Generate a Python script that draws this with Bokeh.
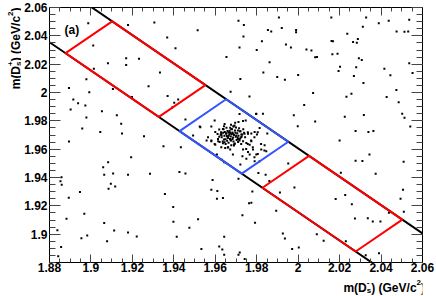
import math
import numpy as np
from bokeh.plotting import figure
from bokeh.layouts import row, column
from bokeh.models import Range1d, LinearAxis, FixedTicker, Label, CustomLabelingPolicy
from bokeh.embed import file_html
from bokeh.resources import INLINE

# ---------------- data ----------------
AX_MIN, AX_MAX = 1.88, 2.06
x_tick_values = [1.88, 1.90, 1.92, 1.94, 1.96, 1.98, 2.00, 2.02, 2.04, 2.06]
x_tick_labels = ["1.88", "1.9", "1.92", "1.94", "1.96", "1.98", "2", "2.02", "2.04", "2.06"]
y_tick_values = [1.90, 1.92, 1.94, 1.96, 1.98, 2.00, 2.02, 2.04, 2.06]
y_tick_labels = ["1.9", "1.92", "1.94", "1.96", "1.98", "2", "2.02", "2.04", "2.06"]

# band in m(Ds-)+m(Ds+) and box limits in m(Ds+)-m(Ds-)
band_sum = [3.9155, 3.9605]
blue_diff = [-0.03, 0.03]
red_diff_upper = [0.05, 0.14]
red_diff_lower = [-0.14, -0.05]

bkg_left = [
    (1.8987, 2.0489), (1.9179, 2.0477), (1.9306, 2.0494), (1.9515, 2.0440), (1.9368, 2.0388),
    (1.9011, 2.0331), (1.9408, 2.0312), (1.9170, 2.0241), (1.9232, 2.0239), (1.9654, 2.0251),
    (1.9082, 2.0206), (1.9170, 2.0194), (1.9014, 2.0168), (1.9333, 2.0142), (1.8978, 2.0093),
    (1.9278, 2.0045), (1.8894, 2.0031), (1.9106, 2.0024), (1.8992, 2.0001), (1.9674, 2.0005),
    (1.8915, 1.9951), (1.9198, 1.9968), (1.9370, 1.9975), (1.9421, 1.9951), (1.8938, 1.9925),
    (1.9402, 1.9927), (1.8973, 1.9909), (1.8902, 1.9880), (1.9053, 1.9868), (1.9125, 1.9840),
    (1.8978, 1.9824), (1.9392, 1.9894), (1.9146, 1.9779), (1.9456, 1.9809), (1.8958, 1.9746),
    (1.9045, 1.9722), (1.9150, 1.9710), (1.9256, 1.9691), (1.9528, 1.9755), (1.8894, 1.9654),
    (1.9350, 1.9621), (1.9434, 1.9614), (1.9194, 1.9543), (1.9083, 1.9507), (1.9059, 1.9472),
    (1.9064, 1.9420), (1.9107, 1.9429), (1.9179, 1.9420), (1.9285, 1.9427), (1.9427, 1.9439),
    (1.9456, 1.9429), (1.8858, 1.9401), (1.8853, 1.9373), (1.8859, 1.9349), (1.9096, 1.9356),
    (1.9117, 1.9337), (1.9085, 1.9321), (1.9587, 1.9382), (1.9581, 1.9314), (1.9610, 1.9304),
    (1.8947, 1.9297), (1.8893, 1.9257), (1.9357, 1.9283), (1.9608, 1.9250), (1.9637, 1.9255),
    (1.9397, 1.9191), (1.8968, 1.9144), (1.8882, 1.9108), (1.9517, 1.9106), (1.9064, 1.9078),
    (1.9398, 1.9087), (1.9112, 1.9026), (1.9179, 1.9012), (1.9475, 1.9045), (1.8838, 1.9028),
    (1.8982, 1.8990), (1.9221, 1.8983), (1.8954, 1.8972), (1.9414, 1.8981), (1.9643, 1.8981),
    (1.9078, 1.8950), (1.8856, 1.8910), (1.9533, 1.8896), (1.9619, 1.8913), (1.9634, 1.8891),
    (1.8842, 1.8844), (1.9643, 1.8854),
]

bkg_right = [
    (1.9712, 2.0506), (1.9738, 2.0477), (1.9907, 2.0529), (2.0160, 2.0529), (2.0328, 2.0529),
    (2.0437, 2.0506), (2.0389, 2.0489), (2.0536, 2.0513), (1.9921, 2.0456), (1.9854, 2.0442),
    (1.9870, 2.0430), (1.9990, 2.0442), (1.9990, 2.0425), (2.0312, 2.0465), (2.0237, 2.0414),
    (2.0475, 2.0430), (2.0513, 2.0428), (2.0531, 2.0430), (1.9736, 2.0395), (1.9825, 2.0362),
    (1.9941, 2.0338), (2.0161, 2.0364), (2.0168, 2.0362), (2.0265, 2.0357), (2.0288, 2.0378),
    (2.0283, 2.0352), (1.9717, 2.0317), (1.9965, 2.0317), (1.9800, 2.0300), (2.0040, 2.0303),
    (2.0064, 2.0296), (2.0165, 2.0270), (2.0190, 2.0274), (2.0082, 2.0248), (2.0091, 2.0251),
    (2.0293, 2.0241), (2.0307, 2.0229), (1.9862, 2.0213), (2.0536, 2.0206), (2.0202, 2.0182),
    (2.0280, 2.0178), (2.0416, 2.0168), (1.9832, 2.0142), (2.0195, 2.0152), (2.0000, 2.0123),
    (1.9899, 2.0109), (1.9936, 2.0090), (2.0269, 2.0116), (2.0445, 2.0121), (2.0552, 2.0137),
    (1.9721, 2.0095), (2.0315, 2.0067), (2.0474, 2.0017), (2.0072, 1.9996), (2.0257, 1.9991),
    (1.9765, 1.9972), (2.0233, 1.9970), (2.0427, 1.9968), (2.0485, 1.9932), (2.0029, 1.9911),
    (2.0502, 1.9850), (1.9979, 1.9840), (2.0225, 1.9828), (2.0317, 1.9842), (2.0513, 1.9821),
    (2.0082, 1.9795), (1.9998, 1.9762), (2.0541, 1.9760), (2.0277, 1.9729), (2.0339, 1.9722),
    (2.0363, 1.9729), (1.9851, 1.9710), (2.0200, 1.9661), (2.0344, 1.9562), (2.0277, 1.9519),
    (2.0310, 1.9517), (2.0509, 1.9512), (1.9952, 1.9498), (1.9721, 1.9491), (1.9808, 1.9432),
    (1.9843, 1.9420), (2.0206, 1.9434), (2.0374, 1.9427), (1.9712, 1.9392), (1.9861, 1.9375),
    (1.9982, 1.9330), (1.9779, 1.9302), (2.0506, 1.9314), (1.9912, 1.9295), (2.0227, 1.9276),
    (2.0181, 1.9248), (2.0494, 1.9250), (1.9763, 1.9219), (1.9774, 1.9222), (2.0259, 1.9212),
    (2.0510, 1.9158), (1.9894, 1.9165), (1.9731, 1.9134), (2.0274, 1.9111), (2.0336, 1.9113),
    (2.0360, 1.9090), (2.0397, 1.9090), (2.0438, 1.9151), (1.9792, 1.9080), (1.9926, 1.9005),
    (2.0090, 1.9000), (1.9936, 1.8969), (2.0123, 1.8953), (2.0230, 1.8950), (1.9971, 1.8896),
    (2.0003, 1.8906), (1.9718, 1.8870), (1.9712, 1.8854), (2.0390, 1.8865), (2.0326, 1.8851),
    (1.9742, 1.8825),
]

signal_halo = [
    (1.9597, 1.9802), (1.9645, 1.9778), (1.9637, 1.9743), (1.9677, 1.9743), (1.9693, 1.9767),
    (1.9709, 1.9731), (1.9669, 1.9720), (1.9653, 1.9708), (1.9685, 1.9708), (1.9701, 1.9696),
    (1.9661, 1.9684), (1.9629, 1.9708), (1.9613, 1.9672), (1.9645, 1.9649), (1.9677, 1.9661),
    (1.9709, 1.9672), (1.9725, 1.9684), (1.9741, 1.9708), (1.9757, 1.9720), (1.9773, 1.9661),
    (1.9789, 1.9684), (1.9805, 1.9720), (1.9693, 1.9637), (1.9661, 1.9613), (1.9629, 1.9613),
    (1.9597, 1.9637), (1.9581, 1.9661), (1.9565, 1.9684), (1.9725, 1.9637), (1.9757, 1.9637),
    (1.9749, 1.9601), (1.9781, 1.9613), (1.9821, 1.9637), (1.9837, 1.9590), (1.9805, 1.9566),
    (1.9789, 1.9543), (1.9717, 1.9849), (1.9797, 1.9849), (1.9525, 1.9760), (1.9493, 1.9696),
    (1.9581, 1.9760), (1.9600, 1.9722), (1.9619, 1.9739), (1.9642, 1.9762), (1.9630, 1.9698),
    (1.9614, 1.9656), (1.9600, 1.9632), (1.9637, 1.9642), (1.9661, 1.9680), (1.9674, 1.9715),
    (1.9688, 1.9760), (1.9696, 1.9786), (1.9648, 1.9609), (1.9672, 1.9597), (1.9690, 1.9632),
    (1.9608, 1.9562), (1.9632, 1.9526), (1.9643, 1.9507), (1.9685, 1.9562), (1.9558, 1.9661),
    (1.9581, 1.9656), (1.9712, 1.9791), (1.9734, 1.9798), (1.9747, 1.9802), (1.9718, 1.9727),
    (1.9726, 1.9703), (1.9715, 1.9668), (1.9734, 1.9656), (1.9750, 1.9644), (1.9766, 1.9632),
    (1.9774, 1.9656), (1.9758, 1.9708), (1.9774, 1.9710), (1.9790, 1.9722), (1.9801, 1.9703),
    (1.9814, 1.9750), (1.9830, 1.9850), (1.9798, 1.9850), (1.9734, 1.9597), (1.9758, 1.9580),
    (1.9782, 1.9597), (1.9798, 1.9562), (1.9822, 1.9597), (1.9838, 1.9628), (1.9846, 1.9585),
    (1.9731, 1.9550), (1.9750, 1.9533), (1.9766, 1.9562), (1.9790, 1.9514), (1.9814, 1.9514),
]

signal_core = [
    (1.9652, 1.9712), (1.9668, 1.9705), (1.9675, 1.9690), (1.9660, 1.9680), (1.9683, 1.9718),
    (1.9690, 1.9700), (1.9699, 1.9688), (1.9671, 1.9672), (1.9657, 1.9660), (1.9644, 1.9694),
    (1.9638, 1.9716), (1.9681, 1.9740), (1.9695, 1.9731), (1.9706, 1.9712), (1.9712, 1.9694),
    (1.9703, 1.9665), (1.9688, 1.9654), (1.9664, 1.9646), (1.9649, 1.9670), (1.9631, 1.9684),
    (1.9626, 1.9702), (1.9659, 1.9729), (1.9672, 1.9752), (1.9688, 1.9762), (1.9715, 1.9748),
    (1.9722, 1.9726), (1.9730, 1.9704), (1.9720, 1.9676), (1.9710, 1.9650), (1.9694, 1.9640),
    (1.9677, 1.9628), (1.9650, 1.9637), (1.9636, 1.9655), (1.9619, 1.9688), (1.9640, 1.9741),
    (1.9665, 1.9694), (1.9678, 1.9706), (1.9686, 1.9683), (1.9663, 1.9718), (1.9697, 1.9716),
    (1.9674, 1.9663), (1.9656, 1.9693), (1.9708, 1.9683), (1.9683, 1.9671), (1.9669, 1.9730),
    (1.9646, 1.9722), (1.9727, 1.9690), (1.9700, 1.9753), (1.9654, 1.9751), (1.9739, 1.9716),
    (1.9717, 1.9662), (1.9642, 1.9668), (1.9628, 1.9720), (1.9690, 1.9626), (1.9662, 1.9612),
    (1.9744, 1.9684), (1.9611, 1.9707), (1.9676, 1.9773), (1.9735, 1.9741), (1.9621, 1.9650),
]

# ---------------- layout ----------------
W, H = 436, 296
YW, XH = 21, 20            # strips holding the axis titles
PW, PH = W - YW, H - XH    # main plot canvas
FL, FR, FT, FB = 47, 422, 7, 262   # frame edges in page pixels
FONT = "Liberation Sans"

p = figure(width=PW, height=PH, x_range=Range1d(AX_MIN, AX_MAX), y_range=Range1d(AX_MIN, AX_MAX),
           output_backend="svg", toolbar_location=None,
           min_border_left=FL - YW, min_border_right=W - FR, min_border_top=FT, min_border_bottom=PH - FB)
p.grid.visible = False
p.outline_line_color = "black"
p.background_fill_color = "white"
p.border_fill_color = "white"

minor_vals = [round(v, 4) for v in np.arange(AX_MIN, AX_MAX + 1e-9, 0.005)]

def style_axis(ax, ticks, labels, major_in, minor_in, standoff):
    ax.ticker = FixedTicker(ticks=ticks, minor_ticks=minor_vals)
    ax.major_tick_in = major_in
    ax.major_tick_out = 0
    ax.minor_tick_in = minor_in
    ax.minor_tick_out = 0
    ax.axis_line_color = "black"
    ax.major_tick_line_color = "#444444"
    ax.minor_tick_line_color = "#444444"
    if labels is not None:
        ax.major_label_overrides = {v: l for v, l in zip(ticks, labels)}
        ax.major_label_text_font = FONT
        ax.major_label_text_font_style = "bold"
        ax.major_label_text_font_size = "12px"
        ax.major_label_text_color = "black"
        ax.major_label_standoff = standoff
    else:
        ax.major_label_policy = CustomLabelingPolicy(code="return new Set()")
        ax.major_label_text_font_size = "1px"
        ax.major_label_standoff = 0

style_axis(p.xaxis[0], x_tick_values, x_tick_labels, 8, 4, 0)
style_axis(p.yaxis[0], y_tick_values, y_tick_labels, 11, 6, 2)
top_ax = LinearAxis()
right_ax = LinearAxis()
style_axis(top_ax, x_tick_values, None, 8, 4, 0)
style_axis(right_ax, y_tick_values, None, 11, 6, 0)
p.add_layout(top_ax, "above")
p.add_layout(right_ax, "right")

# ---------------- marks ----------------
def unzip(pts):
    return [a for a, _ in pts], [b for _, b in pts]

for pts in (bkg_left, bkg_right, signal_halo, signal_core):
    xs, ys = unzip(pts)
    p.scatter(xs, ys, marker="square", size=2, color="black", line_width=0)

for s in band_sum:
    p.line([AX_MIN, AX_MAX], [s - AX_MIN, s - AX_MAX], line_color="black", line_width=2)

def box(dlo, dhi):
    sl, sh = band_sum
    corners = [(sl, dlo), (sl, dhi), (sh, dhi), (sh, dlo)]
    return [(s - d) / 2 for s, d in corners], [(s + d) / 2 for s, d in corners]

for (dlo, dhi), col in ((red_diff_upper, "#ff0000"), (red_diff_lower, "#ff0000"), (blue_diff, "#3355ff")):
    bx, by = box(dlo, dhi)
    p.patch(bx, by, fill_color=None, line_color=col, line_width=2)

p.add_layout(Label(x=15, y=233, x_units="screen", y_units="screen", text="(a)", text_font=FONT,
                   text_font_style="bold", text_font_size="12px", text_color="black",
                   text_align="left", text_baseline="alphabetic"))

# ---------------- axis titles (composed with sub/superscripts) ----------------
def strip(w, h):
    f = figure(width=w, height=h, x_range=Range1d(0, 1), y_range=Range1d(0, 1),
               x_axis_type=None, y_axis_type=None, toolbar_location=None, output_backend="svg",
               min_border=0)
    f.outline_line_color = None
    f.grid.visible = False
    f.background_fill_color = "white"
    f.border_fill_color = "white"
    return f

HB = {'m': 889, '(': 333, 'D': 722, ')': 333, ' ': 278, 'G': 778, 'e': 556, 'V': 667,
      '/': 278, 'c': 556, 's': 556, '-': 333, '+': 584, '2': 556}
FS_MAIN, FS_SMALL = 12, 8
SUP = 5.5

def tw(t, fs):
    return sum(HB[c] for c in t) * fs / 1000.0

def add_title(fig, pieces, horizontal, end, base, sub):
    adv = []
    for t, kind in pieces:
        if kind == "main":
            adv.append(tw(t, FS_MAIN))
        elif kind == "sup":
            adv.append(tw(t, FS_SMALL))
        else:
            adv.append(max(tw(t[0], FS_SMALL), tw(t[1], FS_SMALL)))
    total = sum(adv)
    pos = 0.0
    for (t, kind), a in zip(pieces, adv):
        if kind == "main":
            items = [(t, FS_MAIN, 0)]
        elif kind == "sup":
            items = [(t, FS_SMALL, SUP)]
        else:
            items = [(t[0], FS_SMALL, -sub), (t[1], FS_SMALL, SUP)]
        for txt, fs, sh in items:
            common = dict(text=txt, x_units="screen", y_units="screen", text_font=FONT,
                          text_font_style="bold", text_font_size=f"{fs}px", text_color="black",
                          text_align="left", text_baseline="alphabetic")
            if horizontal:
                lab = Label(x=end - total + pos, y=base + sh, **common)
            else:
                lab = Label(x=base - sh, y=end - total + pos, angle=math.pi / 2, **common)
            fig.add_layout(lab)
        pos += a

# the column aligns this strip's frame with the plot frame (page x 47..422)
xt = strip(PW, XH)
add_title(xt, [("m(D", "main"), (("s", "-"), "subsup"), (") (GeV/c", "main"), ("2", "sup"), (")", "main")],
          True, 422.5 - FL, H - 287, 3)

yt = strip(YW, H)
add_title(yt, [("m(D", "main"), (("s", "+"), "subsup"), (") (GeV/c", "main"), ("2", "sup"), (")", "main")],
          False, H - 7, 15.5, 2.5)

layout = row(yt, column(p, xt))
open("out.html", "w").write(file_html(layout, INLINE))
